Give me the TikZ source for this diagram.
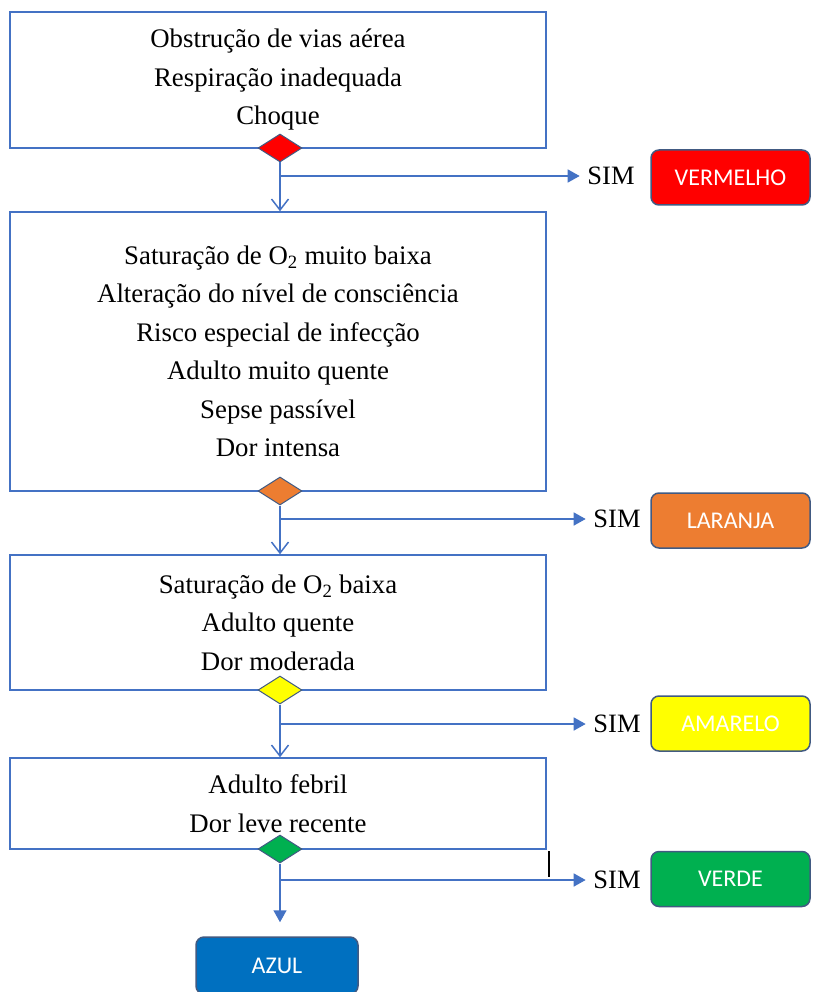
\documentclass[tikz,border=0pt]{standalone}
\usepackage{fontspec}
\setmainfont{Liberation Serif}
\newfontfamily\labelfont{Carlito}
\usetikzlibrary{shapes.geometric,arrows.meta}

\definecolor{linha}{RGB}{68,114,196}
\definecolor{borda}{RGB}{65,90,130}
\definecolor{cvermelho}{RGB}{255,0,0}
\definecolor{claranja}{RGB}{237,125,49}
\definecolor{camarelo}{RGB}{255,255,0}
\definecolor{cverde}{RGB}{0,176,80}
\definecolor{cazul}{RGB}{0,112,192}

\begin{document}
\begin{tikzpicture}[x=1pt,y=-1pt,line width=1.5pt,
  caixa/.style={draw=linha,rectangle,minimum width=536pt,align=center,
    font=\fontsize{26.8}{38.5}\selectfont},
  losango/.style={draw=borda,diamond,line width=1pt,inner sep=0pt,
    minimum width=44pt,minimum height=28pt},
  cor/.style={draw=borda,rounded corners=8pt,minimum width=159pt,minimum height=55pt,
    text=white,font=\labelfont\fontsize{24}{24}\selectfont},
  sim/.style={inner sep=7pt,font=\fontsize{26.5}{26.5}\selectfont},
  aberta/.style={draw=linha,-{Straight Barb[length=11pt,width=17pt]}},
  cheia/.style={draw=linha,-{Triangle[length=12pt,width=13pt]}}]
\useasboundingbox (0,0) rectangle (812,992);

\node [caixa,minimum height=136pt] (b1) at (278,80)
  {Obstrução de vias aérea\\Respiração inadequada\\Choque};
\node [caixa,minimum height=279pt] (b2) at (278,351.5)
  {Saturação de O\textsubscript{2} muito baixa\\Alteração do nível de consciência\\
   Risco especial de infecção\\Adulto muito quente\\Sepse passível\\Dor intensa};
\node [caixa,minimum height=135pt] (b3) at (278,622.5)
  {Saturação de O\textsubscript{2} baixa\\Adulto quente\\Dor moderada};
\node [caixa,minimum height=91pt] (b4) at (278,803.5)
  {Adulto febril\\Dor leve recente};

\node [losango,fill=cvermelho] (d1) at (280,148) {};
\node [losango,fill=claranja] (d2) at (280,491) {};
\node [losango,fill=camarelo] (d3) at (280,690) {};
\node [losango,fill=cverde] (d4) at (280,849) {};

\node [cor,fill=cvermelho] (c1) at (730.5,177.5) {VERMELHO};
\node [cor,fill=claranja] (c2) at (730.5,520.5) {LARANJA};
\node [cor,fill=camarelo] (c3) at (730.5,723.5) {AMARELO};
\node [cor,fill=cverde] (c4) at (730.5,879) {VERDE};
\node [cor,fill=cazul,minimum width=162pt,minimum height=57pt] (c5) at (277,965.5) {AZUL};

\node [sim] (s1) at (611,176) {SIM};
\node [sim] (s2) at (617,519) {SIM};
\node [sim] (s3) at (617,724) {SIM};
\node [sim] (s4) at (617,880) {SIM};

% ramos para o lado
\coordinate (j1) at (d1.south |- s1);
\coordinate (j2) at (d2.south |- s2);
\coordinate (j3) at (d3.south |- s3);
\coordinate (j4) at (d4.south |- s4);

\draw [aberta] (d1.south) -- (d1.south |- b2.north);
\draw [aberta] (d2.south) -- (d2.south |- b3.north);
\draw [aberta] (d3.south) -- (d3.south |- b4.north);
\draw [cheia,shorten >=14pt] (d4.south) -- (d4.south |- c5.north);

\draw [cheia] (j1) -- (s1.west);
\draw [cheia] (j2) -- (s2.west);
\draw [cheia] (j3) -- (s3.west);
\draw [cheia] (j4) -- (s4.west);

\coordinate (m1) at (549,851);
\coordinate (m2) at (549,877);
\draw [black,line width=1.2pt] (m1) -- (m2);
\end{tikzpicture}
\end{document}
